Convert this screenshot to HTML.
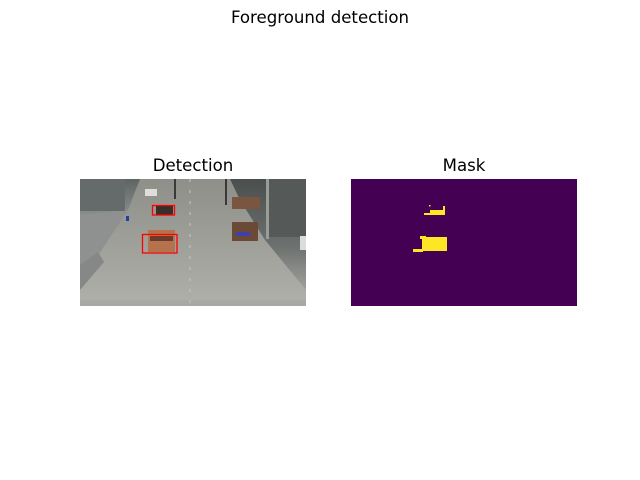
<!DOCTYPE html>
<html><head><meta charset="utf-8"><style>
html,body{margin:0;padding:0;background:#fff;}
svg{display:block;}
</style></head><body>
<svg width="640" height="480" viewBox="0 0 640 480" xmlns="http://www.w3.org/2000/svg">
<defs>
<linearGradient id="road" x1="0" y1="0" x2="0" y2="1">
<stop offset="0" stop-color="#8e8f89"/><stop offset="1" stop-color="#b0b0aa"/>
</linearGradient>
<linearGradient id="lside" x1="0" y1="0" x2="0" y2="1">
<stop offset="0" stop-color="#5d6463"/><stop offset="0.5" stop-color="#8f9493"/><stop offset="1" stop-color="#9a9c99"/>
</linearGradient>
<linearGradient id="rside" x1="0" y1="0" x2="0" y2="1">
<stop offset="0" stop-color="#4a4f4d"/><stop offset="0.6" stop-color="#6c706e"/><stop offset="1" stop-color="#9fa09c"/>
</linearGradient>
</defs>
<rect width="640" height="480" fill="#fff"/>
<text x="320" y="23" font-family="DejaVu Sans, sans-serif" font-size="16.6" text-anchor="middle" fill="#000">Foreground detection</text>
<text x="193" y="171" font-family="DejaVu Sans, sans-serif" font-size="16.6" text-anchor="middle" fill="#000">Detection</text>
<text x="464" y="171" font-family="DejaVu Sans, sans-serif" font-size="16.6" text-anchor="middle" fill="#000">Mask</text>
<g>
<clipPath id="c1"><rect x="80" y="179" width="226" height="127"/></clipPath>
<g clip-path="url(#c1)">
<rect x="80" y="179" width="226" height="127" fill="url(#road)"/>
<polygon points="80,179 140,179 128,210 80,260" fill="url(#lside)"/>
<polygon points="80,215 128,210 95,260 80,290" fill="#8e9190"/>
<polygon points="230,179 306,179 306,290 265,240 240,200" fill="url(#rside)"/>
<rect x="268" y="179" width="38" height="58" fill="#555958"/>
<rect x="80" y="179" width="45" height="32" fill="#656b6b"/>
<polygon points="80,265 98,252 104,262 80,290" fill="#858886"/>
<rect x="80" y="300" width="226" height="6" fill="#a9a9a3"/>
<rect x="145" y="189" width="12" height="7" fill="#e0deda"/>
<rect x="156" y="206" width="17" height="9" fill="#3a2e2a"/>
<rect x="148" y="230" width="27" height="22" fill="#b4734c"/>
<rect x="150" y="236" width="23" height="5" fill="#6a3c28"/>
<rect x="232" y="222" width="26" height="19" fill="#6a4a36"/>
<rect x="236" y="232" width="14" height="4" fill="#4040a8"/>
<rect x="232" y="197" width="28" height="12" fill="#7a5640"/>
<rect x="126" y="216" width="3" height="5" fill="#2040a0"/>
<rect x="300" y="236" width="6" height="14" fill="#dcdcdc"/>
<rect x="174" y="179" width="2" height="20" fill="#3a3a3a"/>
<rect x="225" y="179" width="2" height="26" fill="#3a3a3a"/>
<rect x="266" y="179" width="3" height="60" fill="#9a9c98"/>
<line x1="190" y1="179" x2="190" y2="305" stroke="#c8c8c2" stroke-width="1" stroke-dasharray="3,8"/>
</g>
<rect x="152.5" y="205.5" width="22" height="9.5" fill="none" stroke="#f00" stroke-width="1.3"/>
<rect x="142.5" y="234.5" width="34.5" height="18.5" fill="none" stroke="#f00" stroke-width="1.3"/>
</g>
<rect x="351" y="179" width="226" height="127" fill="#440154"/>
<g fill="#fde725">
<rect x="424" y="213" width="21" height="2"/>
<rect x="430" y="210" width="15" height="4"/>
<rect x="443" y="206" width="2" height="8"/>
<rect x="429" y="205" width="1.5" height="1.5"/>
<rect x="422" y="237" width="25" height="14"/>
<rect x="420" y="236" width="6" height="3"/>
<rect x="413" y="249" width="10" height="3"/>
</g>
</svg>
</body></html>
